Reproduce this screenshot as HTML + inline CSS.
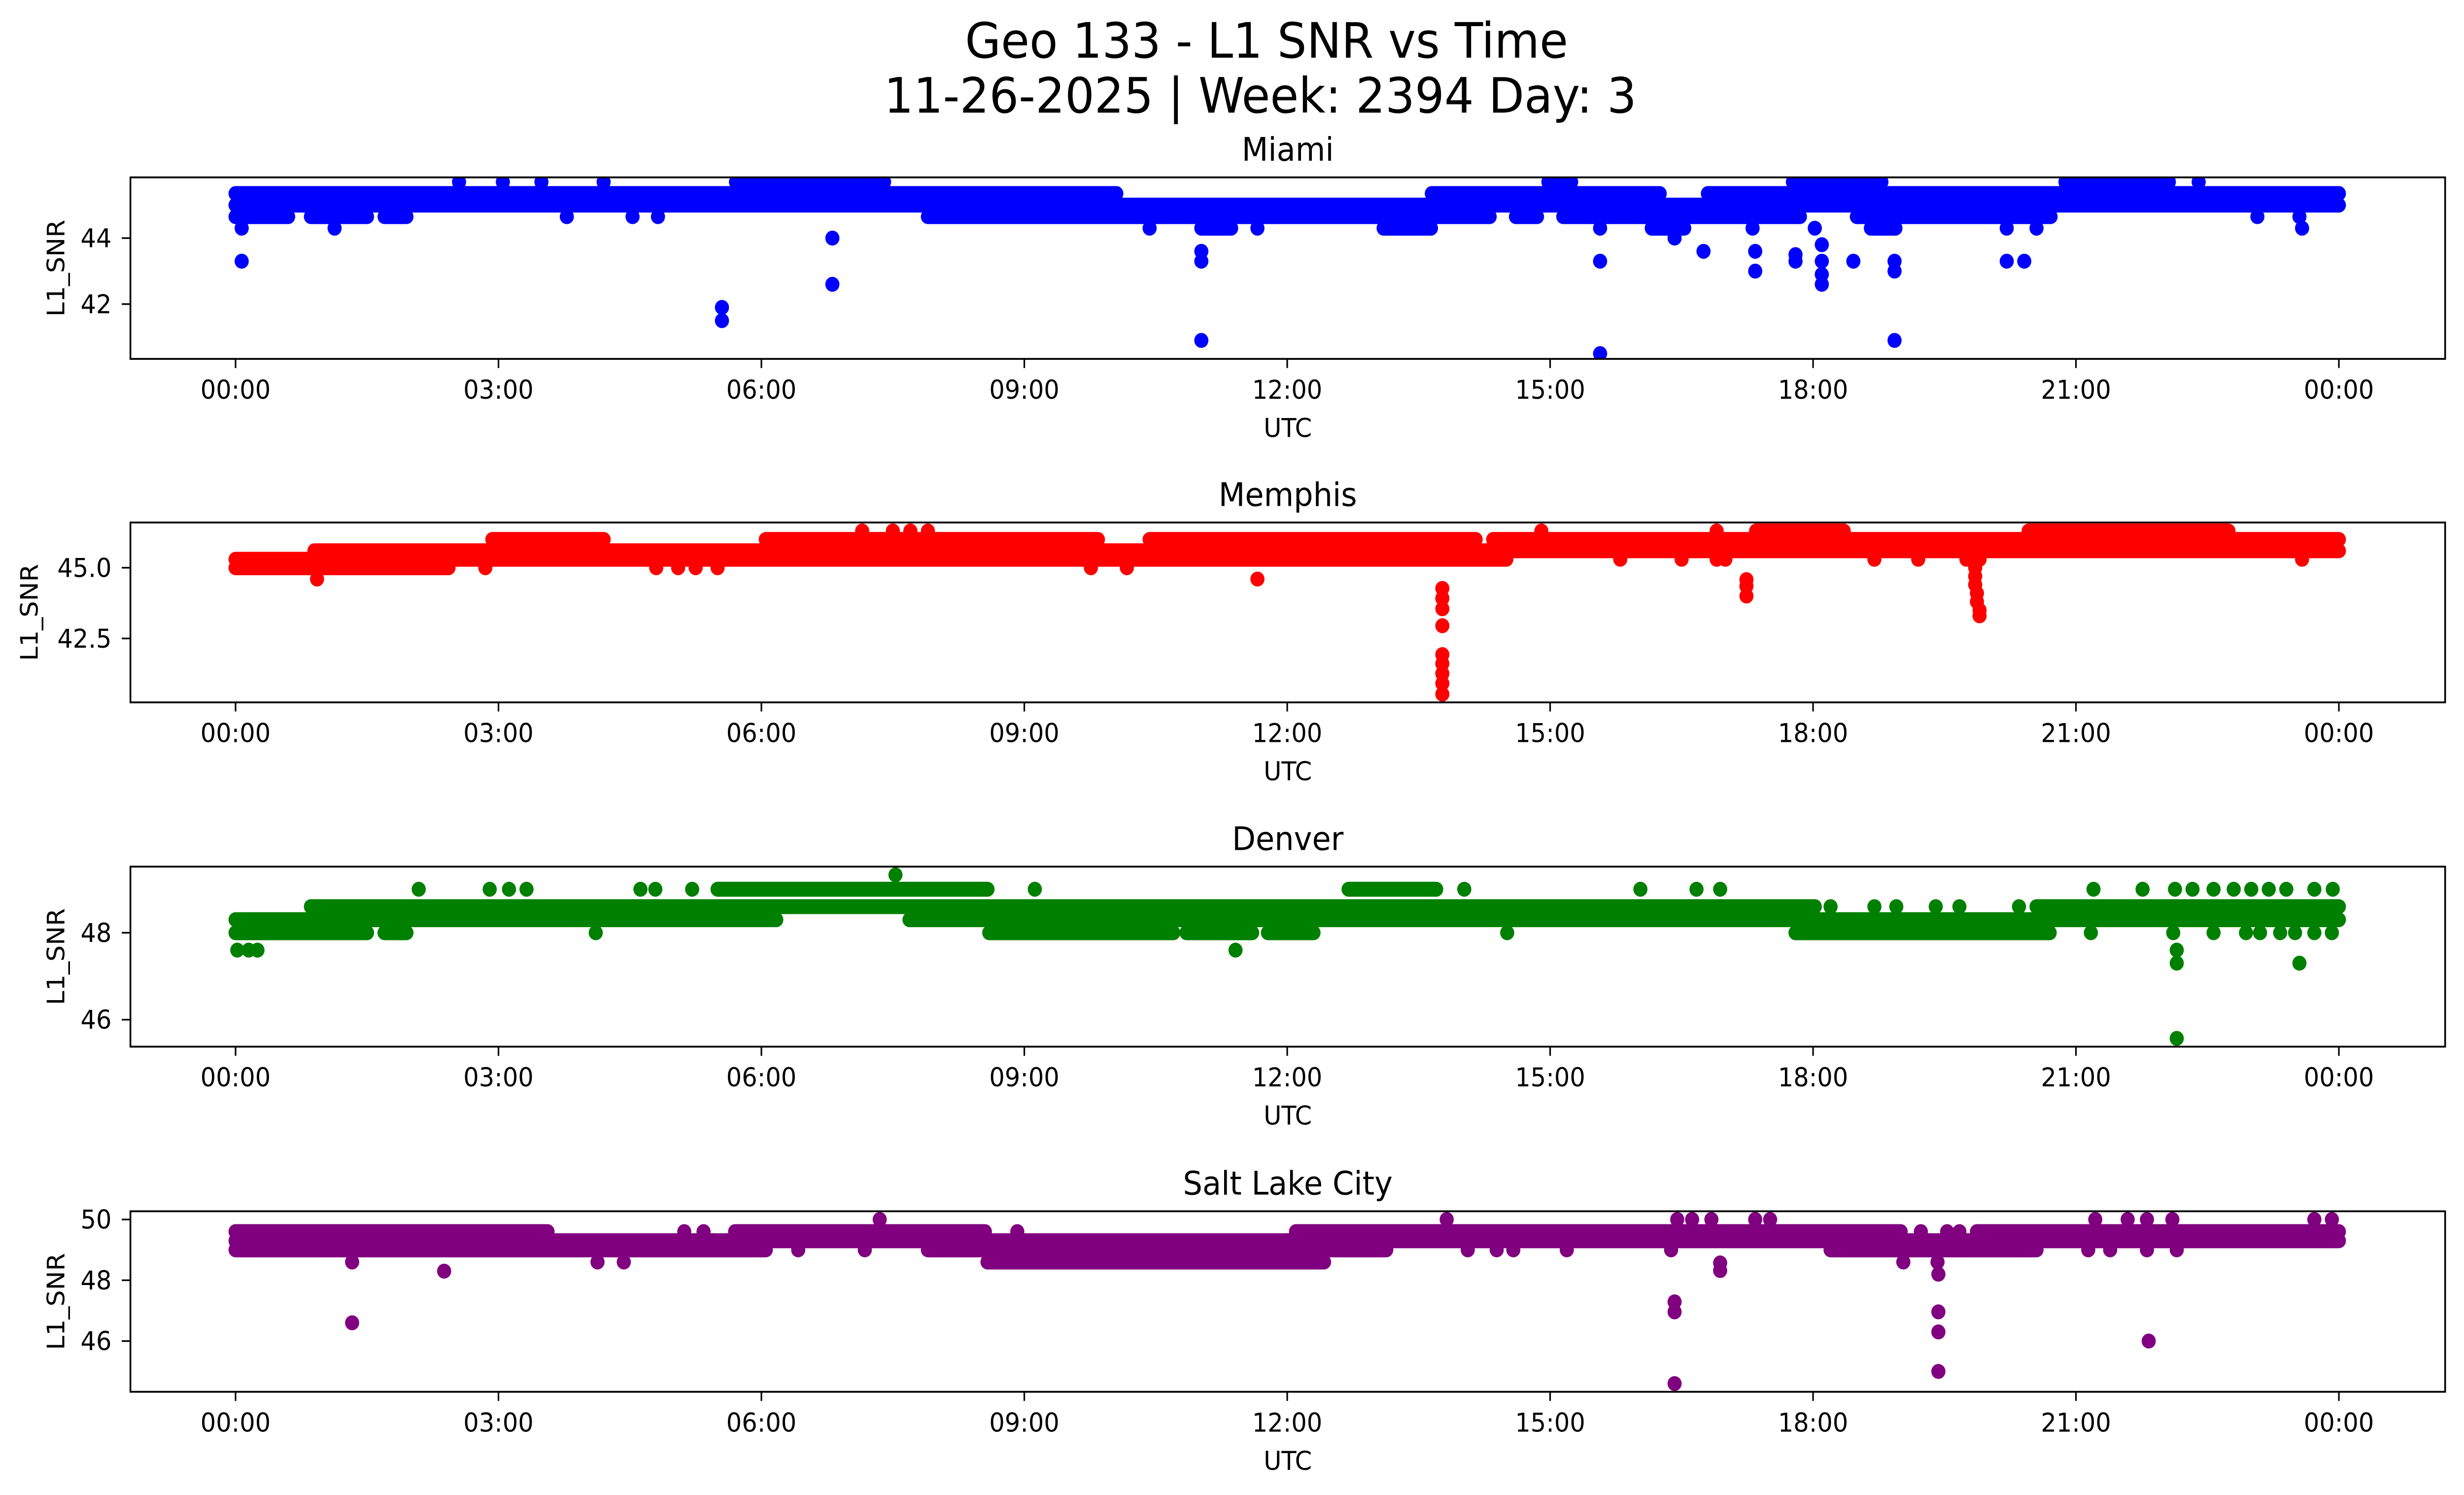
<!DOCTYPE html>
<html><head><meta charset="utf-8"><title>Geo 133 - L1 SNR vs Time</title>
<style>html,body{margin:0;padding:0;background:#fff;overflow:hidden;width:100%;height:100%}svg{display:block;width:100vw;height:100vh}text{font-family:"DejaVu Sans","Liberation Sans",sans-serif;fill:#000}</style>
</head><body>
<svg id="chart" xmlns="http://www.w3.org/2000/svg" viewBox="0 0 1568 901" preserveAspectRatio="none">
<rect width="1568" height="901" fill="#fff"/>
<text x="806" y="34.7" font-size="29.5" text-anchor="middle">Geo 133 - L1 SNR vs Time</text>
<text x="802" y="67.9" font-size="29.5" text-anchor="middle">11-26-2025 | Week: 2394 Day: 3</text>
<g id="panels"></g>
</svg>
<script>
// Shared x-axis ticks (hours UTC)
const xTickHours = [0,3,6,9,12,15,18,21,24];
const xTickLabels = ["00:00","03:00","06:00","09:00","12:00","15:00","18:00","21:00","00:00"];

// ---- Miami ----
const miamiSegStart = [0,13.65,16.8, 0, 0,0.86,1.7,7.9,14.61,15.15,18.5, 5.8,14.98,17.77,20.88, 11.02,13.1,16.16,18.66];
const miamiSegEnd   = [10.05,16.25,24, 24, 0.6,1.5,1.95,14.31,14.85,17.85,20.71, 7.4,15.24,18.78,22.06, 11.36,13.64,16.53,18.94];
const miamiSegVal   = [45.35,45.35,45.35, 45.0, 44.65,44.65,44.65,44.65,44.65,44.65,44.65, 45.7,45.7,45.7,45.7, 44.3,44.3,44.3,44.3];
const miamiPtT = [2.55,3.05,3.49,4.2,5.71,22.4, 3.78,4.53,4.82,23.07,23.55, 0.07,1.13,10.43,11.66,15.57,17.31,18.02,20.21,20.55,23.58,
  0.07,6.81,6.81,5.55,5.55,11.02,11.02,11.02,15.57,15.57,16.42,16.75,17.34,17.34,17.8,17.8,18.1,18.1,18.1,18.1,18.46,18.93,18.93,18.93,20.21,20.41];
const miamiPtV = [45.7,45.7,45.7,45.7,45.7,45.7, 44.65,44.65,44.65,44.65,44.65, 44.3,44.3,44.3,44.3,44.3,44.3,44.3,44.3,44.3,44.3,
  43.3,44.0,42.6,41.9,41.5,43.6,43.3,40.9,43.3,40.5,44.0,43.6,43.6,43.0,43.5,43.3,43.8,43.3,42.9,42.6,43.3,43.3,43.0,40.9,43.3,43.3];
const miamiYTicks = [42,44];

// ---- Memphis ----
const memphisSegStart = [0, 0, 0.9, 2.93,6.05,10.43,14.35, 20.46,17.35];
const memphisSegEnd   = [2.43, 14.5, 24, 4.2,9.84,14.15,24, 22.74,18.35];
const memphisSegVal   = [45.0, 45.3, 45.6, 46.0,46.0,46.0,46.0, 46.3,46.3];
const memphisPtT = [7.15,7.5,7.7,7.9,14.9,16.9, 15.8,16.5,16.9,17.0,18.7,19.2,19.75,19.9,23.58, 2.85,4.8,5.05,5.25,5.5,9.76,10.17, 0.93,11.66,
  13.77,13.77,13.77,13.77,13.77,13.77,13.77,13.77,13.77, 17.24,17.24,17.24, 19.85,19.85,19.85,19.87,19.87,19.9,19.9];
const memphisPtV = [46.3,46.3,46.3,46.3,46.3,46.3, 45.3,45.3,45.3,45.3,45.3,45.3,45.3,45.3,45.3, 45.0,45.0,45.0,45.0,45.0,45.0,45.0, 44.6,44.6,
  44.27,43.92,43.55,42.95,41.93,41.61,41.26,40.91,40.53, 44.58,44.35,44.0, 45.0,44.7,44.4,44.1,43.8,43.5,43.3];
const memphisYTicks = [42.5,45.0];

// ---- Denver ----
const denverSegStart = [0,7.69, 0.86,20.55, 0,1.7,8.6,10.85,11.78,17.8, 5.5,12.7];
const denverSegEnd   = [6.17,24, 18.02,24, 1.5,1.95,10.7,11.6,12.3,20.7, 8.58,13.7];
const denverSegVal   = [48.3,48.3, 48.6,48.6, 48.0,48.0,48.0,48.0,48.0,48.0, 49.0,49.0];
const denverPtT = [18.2,18.7,18.95,19.4,19.67,20.35, 4.11,14.51,21.17,22.11,22.57,22.94,23.1,23.33,23.5,23.72,23.92,
  2.09,2.9,3.12,3.32,4.62,4.79,5.21,9.12,14.02,16.03,16.67,16.94,21.2,21.76,22.13,22.33,22.57,22.8,23.0,23.2,23.4,23.72,23.93,
  7.53, 0.02,0.15,0.25,11.41,22.15, 22.15,23.55, 22.15];
const denverPtV = [48.6,48.6,48.6,48.6,48.6,48.6, 48.0,48.0,48.0,48.0,48.0,48.0,48.0,48.0,48.0,48.0,48.0,
  49.0,49.0,49.0,49.0,49.0,49.0,49.0,49.0,49.0,49.0,49.0,49.0,49.0,49.0,49.0,49.0,49.0,49.0,49.0,49.0,49.0,49.0,49.0,
  49.33, 47.6,47.6,47.6,47.6,47.6, 47.3,47.3, 45.57];
const denverYTicks = [46,48];

// ---- Salt Lake City ----
const slcSegStart = [0, 0,5.7,12.1,19.87, 0,7.9,18.2, 8.58];
const slcSegEnd   = [24, 3.56,8.55,19.0,24, 6.05,13.13,20.55, 12.42];
const slcSegVal   = [49.3, 49.6,49.6,49.6,49.6, 49.0,49.0,49.0, 48.6];
const slcPtT = [5.12,5.34,8.92,19.23,19.53,19.67, 6.42,7.18,14.06,14.39,14.58,15.19,16.38,21.14,21.39,21.81,22.15,
  1.33,4.13,4.43,19.03,19.42, 7.35,13.82,16.45,16.62,16.84,17.34,17.51,21.22,21.59,21.81,22.1,23.72,23.92,
  1.33,2.38,16.94,16.94,16.42,16.42,16.42,19.43,19.43,19.43,19.43,21.83];
const slcPtV = [49.6,49.6,49.6,49.6,49.6,49.6, 49.0,49.0,49.0,49.0,49.0,49.0,49.0,49.0,49.0,49.0,49.0,
  48.6,48.6,48.6,48.6,48.6, 50.0,50.0,50.0,50.0,50.0,50.0,50.0,50.0,50.0,50.0,50.0,50.0,50.0,
  46.6,48.3,48.57,48.32,47.29,46.96,44.6,48.2,46.96,46.3,45.0,46.0];
const slcYTicks = [46,48,50];

const NS = "http://www.w3.org/2000/svg";
const root = document.getElementById("panels");
function mk(tag, attrs, parent){ const e=document.createElementNS(NS,tag); for(const k in attrs) e.setAttribute(k,attrs[k]); parent.appendChild(e); return e; }

const AX_L = 83, AX_R = 1556;
function xScale(h){ return 149.9 + h*55.77; }

function panel(cfg){
  const g = mk("g",{},root);
  
  
  const yS = v => cfg.top + (cfg.ymax - v)/(cfg.ymax - cfg.ymin)*(cfg.bottom - cfg.top);
  const clipId = "clip-"+cfg.key;
  const cp = mk("clipPath",{id:clipId},g);
  mk("rect",{x:AX_L,y:cfg.top,width:AX_R-AX_L,height:cfg.bottom-cfg.top},cp);
  const marks = mk("g",{"clip-path":"url(#"+clipId+")"},g);
  
  
  for(let i=0;i<cfg.segS.length;i++){
    const ln = mk("line",{x1:xScale(cfg.segS[i]),x2:xScale(cfg.segE[i]),y1:yS(cfg.segV[i]),y2:yS(cfg.segV[i]),stroke:cfg.color,"stroke-width":9,"stroke-linecap":"round"},marks);
    
    
  }
  for(let i=0;i<cfg.ptT.length;i++){
    const c = mk("circle",{cx:xScale(cfg.ptT[i]),cy:yS(cfg.ptV[i]),r:4.5,fill:cfg.color},marks);
    
    
  }
  const frame = mk("rect",{x:AX_L,y:cfg.top,width:AX_R-AX_L,height:cfg.bottom-cfg.top,fill:"none",stroke:"#000","stroke-width":1.1},g);
  
  
  for(let i=0;i<xTickHours.length;i++){
    const x = xScale(xTickHours[i]);
    mk("line",{x1:x,x2:x,y1:cfg.bottom,y2:cfg.bottom+5.5,stroke:"#000","stroke-width":1},g);
    const t = mk("text",{x:x,y:cfg.bottom+24,"font-size":15.5,"text-anchor":"middle"},g);
    t.textContent = xTickLabels[i];
    
    
  }
  for(let i=0;i<cfg.yTicks.length;i++){
    const y = yS(cfg.yTicks[i]);
    mk("line",{x1:AX_L-5.5,x2:AX_L,y1:y,y2:y,stroke:"#000","stroke-width":1},g);
    const t = mk("text",{x:AX_L-12,y:y+5.5,"font-size":15.5,"text-anchor":"end"},g);
    t.textContent = cfg.yTickFmt(cfg.yTicks[i]);
    
    
  }
  const ti = mk("text",{x:(AX_L+AX_R)/2,y:cfg.top-10,"font-size":19.5,"text-anchor":"middle"},g);
  ti.textContent = cfg.title;
  
  
  const xl = mk("text",{x:(AX_L+AX_R)/2,y:cfg.bottom+47,"font-size":15.5,"text-anchor":"middle"},g);
  xl.textContent = "UTC";
  
  
  const ymid = (cfg.top+cfg.bottom)/2;
  const yl = mk("text",{x:cfg.ylabX,y:ymid,"font-size":15.5,"text-anchor":"middle",transform:"rotate(-90 "+cfg.ylabX+" "+ymid+")"},g);
  yl.textContent = "L1_SNR";
  
  
}

panel({key:"miami",title:"Miami",color:"#0000ff",top:106.9,bottom:216.3,ymin:40.34,ymax:45.84,segS:miamiSegStart,segE:miamiSegEnd,segV:miamiSegVal,ptT:miamiPtT,ptV:miamiPtV,yTicks:miamiYTicks,yTickFmt:v=>String(v),ylabX:41});
panel({key:"memphis",title:"Memphis",color:"#ff0000",top:314.9,bottom:423.3,ymin:40.24,ymax:46.6,segS:memphisSegStart,segE:memphisSegEnd,segV:memphisSegVal,ptT:memphisPtT,ptV:memphisPtV,yTicks:memphisYTicks,yTickFmt:v=>v.toFixed(1),ylabX:24});
panel({key:"denver",title:"Denver",color:"#008000",top:522.3,bottom:630.8,ymin:45.38,ymax:49.52,segS:denverSegStart,segE:denverSegEnd,segV:denverSegVal,ptT:denverPtT,ptV:denverPtV,yTicks:denverYTicks,yTickFmt:v=>String(v),ylabX:41});
panel({key:"slc",title:"Salt Lake City",color:"#800080",top:730.0,bottom:838.8,ymin:44.33,ymax:50.27,segS:slcSegStart,segE:slcSegEnd,segV:slcSegVal,ptT:slcPtT,ptV:slcPtV,yTicks:slcYTicks,yTickFmt:v=>String(v),ylabX:41});
</script>
</body></html>
